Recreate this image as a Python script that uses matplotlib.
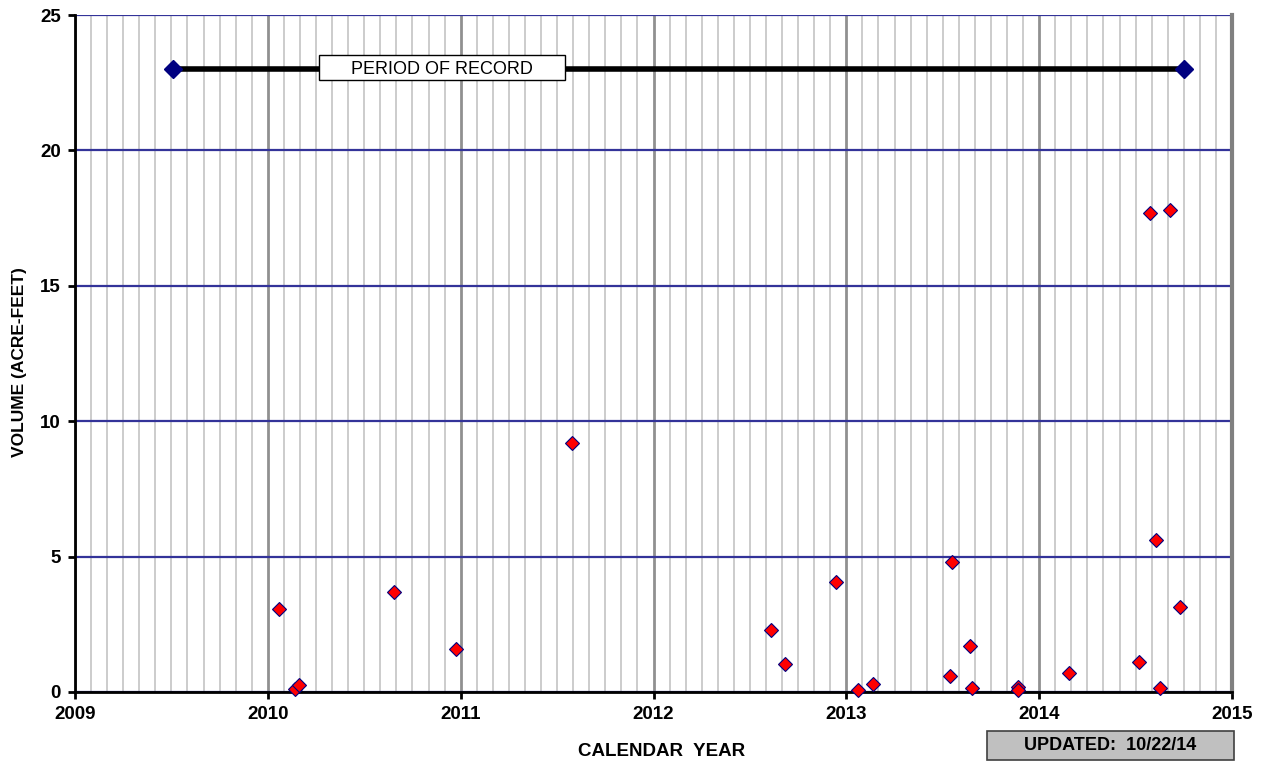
import numpy as np
import matplotlib
matplotlib.use("Agg")
import matplotlib.pyplot as plt
from matplotlib.ticker import MultipleLocator
from matplotlib.patches import Rectangle

plt.rcParams['font.family'] = ['Liberation Sans', 'DejaVu Sans']

# sample dates (decimal year) and volumes (acre-feet)
years = [2010.057, 2010.14, 2010.16, 2010.653, 2010.974, 2011.575,
         2012.611, 2012.684, 2012.948, 2013.06, 2013.14, 2013.54,
         2013.55, 2013.64, 2013.65, 2013.89, 2013.89, 2014.155,
         2014.52, 2014.575, 2014.606, 2014.627, 2014.68, 2014.73]
volume = [3.05, 0.12, 0.27, 3.7, 1.6, 9.2,
          2.3, 1.05, 4.05, 0.06, 0.28, 0.6,
          4.8, 1.7, 0.15, 0.18, 0.06, 0.7,
          1.1, 17.7, 5.6, 0.15, 17.8, 3.15]

period_start = 2009.51
period_end = 2014.75
period_level = 23
# label box for the period line (years / acre-feet)
label_x0, label_x1 = 2010.264, 2011.539
label_y0, label_y1 = 22.6, 23.52

fig = plt.figure(figsize=(12.66, 7.65), dpi=100)
ax = fig.add_axes([75/1266, 1 - 692/765, (1232-75)/1266, (692-15)/765])

ax.set_xlim(2009, 2015)
ax.set_ylim(0, 25)

# monthly minor grid, yearly major grid
ax.xaxis.set_major_locator(MultipleLocator(1))
ax.xaxis.set_minor_locator(MultipleLocator(1/12))
ax.yaxis.set_major_locator(MultipleLocator(5))
ax.grid(which='minor', axis='x', color='#c8c8c8', lw=1.3)
ax.grid(which='major', axis='x', color='#909090', lw=2)
ax.grid(which='major', axis='y', color='#333399', lw=1.6)
ax.set_axisbelow(True)

ax.plot([period_start, period_end], [period_level, period_level], color='black', lw=4, zorder=3)
ax.plot([period_start, period_end], [period_level, period_level], 'D', color='#000080',
        ms=9, zorder=4, clip_on=False)
ax.add_patch(Rectangle((label_x0, label_y0), label_x1 - label_x0, label_y1 - label_y0,
                       fc='white', ec='black', lw=1, zorder=5))
ax.text((label_x0 + label_x1) / 2, (label_y0 + label_y1) / 2, 'PERIOD OF RECORD',
        ha='center', va='center_baseline', fontsize=13, zorder=6)

ax.plot(years, volume, 'D', mfc='red', mec='#000080', mew=0.8, ms=7.5, ls='none',
        zorder=6, clip_on=False)

ax.spines['top'].set_visible(False)
ax.spines['right'].set_color('#808080')
ax.spines['right'].set_linewidth(3)
ax.spines['left'].set_linewidth(2)
ax.spines['bottom'].set_linewidth(2)

ax.tick_params(which='minor', length=0)
ax.tick_params(which='major', length=5, width=2, labelsize=13.5, pad=5)
for lab in ax.get_xticklabels() + ax.get_yticklabels():
    lab.set_fontweight('bold')

fig.text(662/1266, 1 - 751/765, 'CALENDAR  YEAR', ha='center', va='center',
         fontsize=13.5, fontweight='bold')
fig.text(20/1266, 1 - 362/765, 'VOLUME (ACRE-FEET)', ha='center', va='center',
         rotation=90, fontsize=12.5, fontweight='bold')

fig.patches.append(Rectangle((987/1266, 1 - 760/765), 247/1266, 29/765,
                             transform=fig.transFigure, fc='#c0c0c0', ec='#404040', lw=1.2))
fig.text(1110/1266, 1 - 745.5/765, 'UPDATED:  10/22/14', ha='center', va='center',
         fontsize=13, fontweight='bold')

fig.savefig('out.png', dpi=100)
